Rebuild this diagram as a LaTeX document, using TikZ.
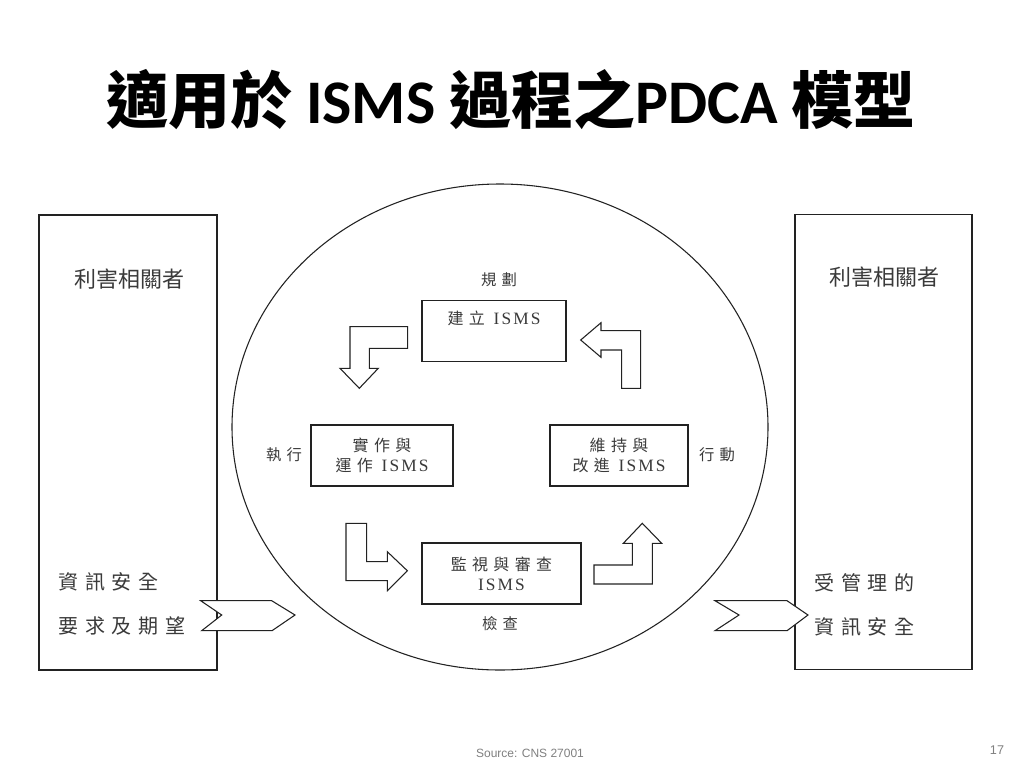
\documentclass[tikz,border=0pt]{standalone}
\usepackage{fontspec}
\setmainfont{Carlito}
\newfontfamily\cjk{Noto Sans CJK TC}
\newfontfamily\cjksp[LetterSpace=33]{Noto Sans CJK TC}
\newfontfamily\latinsp[LetterSpace=12]{Liberation Serif}
\newfontfamily\srcfont{Liberation Sans}
\newcommand\isms{{\latinsp\fontsize{13}{15}\selectfont ISMS}}
\usetikzlibrary{calc}
\definecolor{ink}{HTML}{3A3A3A}
\definecolor{edge}{HTML}{222222}
\tikzset{
  box/.style={draw=edge, line width=0.8pt, minimum height=45.75pt, inner sep=0pt, align=center, text=ink, font=\cjksp\fontsize{12}{15}\selectfont},
  bigbox/.style={draw=edge, line width=0.8pt, minimum width=133.5pt, minimum height=341.25pt, inner sep=0pt},
  phase/.style={text=ink, font=\cjksp\fontsize{11.5}{14}\selectfont},
  side/.style={text=ink, anchor=west, font=\cjksp\fontsize{15}{18}\selectfont},
  party/.style={text=ink, font=\cjk\fontsize{16.5}{20}\selectfont},
  blockarrow/.style={draw=edge, line width=0.8pt, fill=white, line join=miter},
}

\begin{document}
\begin{tikzpicture}[x=0.75pt,y=-0.75pt]
\useasboundingbox[fill=white] (0,0) rectangle (1024,768);

\node[font=\fontsize{46.5}{52}\selectfont] (title) at (511,100)
  {{\cjk\bfseries 適用於} {\bfseries ISMS} {\cjk\bfseries 過程之}{\bfseries PDCA} {\cjk\bfseries 模型}};

% stakeholders
\node[bigbox] (left) at (128,442.5) {};
\node[bigbox, minimum width=132.75pt] (right) at (883.5,442) {};
\node[party] (partyL) at (129,279) {利害相關者};
\node[party] (partyR) at (884,277) {利害相關者};
\node[side] (reqA) at (54,582) {資訊安全};
\node[side] (reqB) at (54,626) {要求及期望};
\node[side] (outA) at (810,583) {受管理的};
\node[side] (outB) at (810,627) {資訊安全};

% cycle
\draw[edge, line width=0.8pt] (500,427) ellipse [x radius=268, y radius=243];

\node[box, minimum width=108pt] (plan) at (494,331) {建立 \isms\\ \strut};
\node[box, minimum width=106.5pt] (do) at (382,455.5) {實作與\\運作 \isms};
\node[box, minimum width=103.5pt] (act) at (619,455.5) {維持與\\改進 \isms};
\node[box, minimum width=119.25pt] (check) at (501.5,573.5) {監視與審查\\\isms};

\node[phase] (planL) at (499,280) {規劃};
\node[phase] (doL) at (284,455) {執行};
\node[phase] (actL) at (717,455) {行動};
\node[phase] (checkL) at (500,624) {檢查};

% block arrows
\draw[blockarrow] (350,326.7) -- (407.7,326.7) -- (407.7,348.3) -- (369.3,348.3) -- (369.3,368.3)
  -- (378.3,368.3) -- (359.3,388.3) -- (340,368.3) -- (350,368.3) -- cycle;
\draw[blockarrow] (346,523.3) -- (366.7,523.3) -- (366.7,561.7) -- (387.3,561.7) -- (387.3,551.7)
  -- (407.3,570.7) -- (387.3,590.7) -- (387.3,580.7) -- (346,580.7) -- cycle;
\draw[blockarrow] (594,565) -- (632.3,565) -- (632.3,543.3) -- (623.3,543.3) -- (642.3,523.3)
  -- (661.7,543.3) -- (652.3,543.3) -- (652.3,584) -- (594,584) -- cycle;
\draw[blockarrow] (580.7,340) -- (601,322.7) -- (601,330.7) -- (640.7,330.7) -- (640.7,388.3)
  -- (621.7,388.3) -- (621.7,350) -- (601,350) -- (601,357.3) -- cycle;

% chevrons
\draw[blockarrow] (200.7,600.7) -- (271.7,600.7) -- (295,615) -- (272,630.7) -- (201.7,630.7) -- (221.7,615) -- cycle;
\draw[blockarrow] (715,600.7) -- (787,600.7) -- (808,615) -- (787,630.7) -- (715,630.7) -- (739,615) -- cycle;

\node[text=gray, font=\srcfont\fontsize{9}{11}\selectfont] (source) at (530,753) {Source: CNS 27001};
\node[text=gray, font=\srcfont\fontsize{9.5}{11}\selectfont] (page) at (997,750) {17};
\end{tikzpicture}
\end{document}
